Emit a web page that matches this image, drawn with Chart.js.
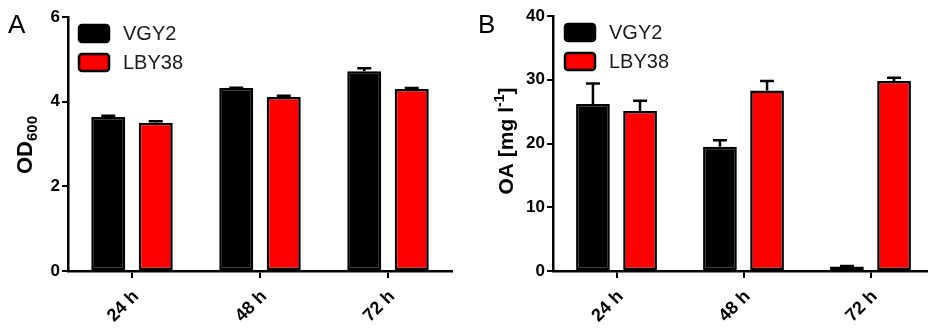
<!DOCTYPE html>
<html><head><meta charset="utf-8">
<script src="https://cdn.jsdelivr.net/npm/chart.js@4.4.1/dist/chart.umd.min.js"></script>
<style>
html,body{margin:0;padding:0;background:#fff;overflow:hidden;width:928px;height:329px;}
#wrap{position:relative;width:928px;height:329px;overflow:hidden;background:#fff;}
canvas{position:absolute;top:0;}
#cA{left:0}
#cB{left:464px}
</style></head><body>
<div id="wrap"><canvas id="cA" width="464" height="329"></canvas><canvas id="cB" width="480" height="329"></canvas></div>
<script>
const categories = ['24 h', '48 h', '72 h'];
const seriesNames = ['VGY2', 'LBY38'];
const seriesColors = ['#000000', '#ff0000'];

const odVGY2 = [3.64, 4.32, 4.72];
const odVGY2Err = [0.03, 0.01, 0.07];
const odLBY38 = [3.50, 4.11, 4.30];
const odLBY38Err = [0.04, 0.03, 0.02];

const oaVGY2 = [26.2, 19.5, 0.7];
const oaVGY2Err = [3.2, 1.0, 0.1];
const oaLBY38 = [25.1, 28.3, 29.8];
const oaLBY38Err = [1.6, 1.5, 0.5];

const odTicks = [0, 2, 4, 6];
const oaTicks = [0, 10, 20, 30, 40];

const FONT = "'Liberation Sans', Arial, sans-serif";

const errorBarPlugin = {
  id: 'errorBars',
  afterDatasetsDraw(chart, args, opts) {
    const ctx = chart.ctx;
    const ys = chart.scales.y;
    ctx.save();
    ctx.strokeStyle = '#000';
    ctx.lineWidth = 2.5;
    chart.data.datasets.forEach((ds, i) => {
      const meta = chart.getDatasetMeta(i);
      meta.data.forEach((el, j) => {
        const v = ds.data[j], e = ds.errors[j];
        const yTop = ys.getPixelForValue(v + e);
        ctx.beginPath();
        ctx.moveTo(el.x, el.y);
        ctx.lineTo(el.x, yTop);
        ctx.moveTo(el.x - 7, yTop);
        ctx.lineTo(el.x + 7, yTop);
        ctx.stroke();
      });
    });
    ctx.restore();
  }
};

const decorPlugin = {
  id: 'decor',
  afterDraw(chart, args, o) {
    const ctx = chart.ctx;
    const ca = chart.chartArea;
    ctx.save();
    // panel letter
    ctx.fillStyle = '#000';
    ctx.font = '26px ' + FONT;
    ctx.textBaseline = 'alphabetic';
    ctx.textAlign = 'left';
    ctx.fillText(o.letter, o.letterX, 33);
    // legend
    chart.data.datasets.forEach((ds, i) => {
      const bx = ca.left + o.legendDx, by = o.legendY[i];
      ctx.beginPath();
      ctx.roundRect(bx, by, 30, 17, 3);
      ctx.fillStyle = ds.backgroundColor;
      ctx.fill();
      ctx.lineWidth = 2.5;
      ctx.strokeStyle = '#000';
      ctx.stroke();
      ctx.fillStyle = '#1a1a1a';
      ctx.font = '20px ' + FONT;
      ctx.textBaseline = 'middle';
      ctx.fillText(ds.label, bx + 44, by + 9);
    });
    // y title
    ctx.translate(o.titleX, o.titleY);
    ctx.rotate(-Math.PI / 2);
    ctx.textBaseline = 'alphabetic';
    ctx.fillStyle = '#000';
    const parts = o.title;
    let total = 0;
    parts.forEach(p => { ctx.font = 'bold ' + p.size + 'px ' + FONT; p.w = ctx.measureText(p.t).width; total += p.w; });
    let x = -total / 2;
    parts.forEach(p => {
      ctx.font = 'bold ' + p.size + 'px ' + FONT;
      ctx.fillText(p.t, x, 8 + p.dy);
      x += p.w;
    });
    ctx.restore();
  }
};

function makeChart(id, vals1, err1, vals2, err2, tickVals, cfg) {
  const yMax = tickVals[tickVals.length - 1];
  const step = tickVals[1] - tickVals[0];
  return new Chart(document.getElementById(id), {
    type: 'bar',
    data: {
      labels: categories,
      datasets: [
        { label: seriesNames[0], data: vals1, errors: err1, backgroundColor: seriesColors[0], borderColor: '#000', borderWidth: 2.5, borderSkipped: false },
        { label: seriesNames[1], data: vals2, errors: err2, backgroundColor: seriesColors[1], borderColor: '#000', borderWidth: 2.5, borderSkipped: false }
      ]
    },
    options: {
      responsive: false,
      animation: false,
      events: [],
      categoryPercentage: 0.742,
      barPercentage: 0.716,
      layout: { padding: { top: cfg.padTop, right: cfg.padRight, left: 0, bottom: 0 } },
      plugins: {
        legend: { display: false },
        tooltip: { enabled: false },
        decor: cfg.decor
      },
      scales: {
        x: {
          grid: { offset: false, drawOnChartArea: false, drawTicks: true, tickLength: 7, color: '#000', lineWidth: 2 },
          border: { display: true, color: '#000', width: 2.5 },
          ticks: { color: '#000', font: { family: FONT, size: 18, weight: 'bold' }, minRotation: 45, maxRotation: 45, padding: 8, labelOffset: 4 },
          afterFit(s) { s.height = cfg.xHeight; }
        },
        y: {
          min: 0, max: yMax,
          grid: { drawOnChartArea: false, drawTicks: true, tickLength: 6, color: '#000', lineWidth: 2 },
          border: { display: true, color: '#000', width: 2.5 },
          ticks: { stepSize: step, color: '#000', font: { family: FONT, size: 17, weight: 'bold' }, padding: 2 },
          afterFit(s) { s.width = cfg.yWidth; }
        }
      }
    },
    plugins: [errorBarPlugin, decorPlugin]
  });
}

makeChart('cA', odVGY2, odVGY2Err, odLBY38, odLBY38Err, odTicks, {
  padTop: 17, padRight: 12, xHeight: 58, yWidth: 68,
  decor: { letter: 'A', letterX: 8, legendDx: 11, legendY: [25, 54], titleX: 24, titleY: 145,
    title: [{ t: 'OD', size: 22, dy: 0 }, { t: '600', size: 15, dy: 5 }] }
});
makeChart('cB', oaVGY2, oaVGY2Err, oaLBY38, oaLBY38Err, oaTicks, {
  padTop: 16, padRight: 10, xHeight: 58, yWidth: 89,
  decor: { letter: 'B', letterX: 14, legendDx: 12, legendY: [24, 53], titleX: 41, titleY: 141,
    title: [{ t: 'OA [mg l', size: 21, dy: 0 }, { t: '-1', size: 14, dy: -9 }, { t: ']', size: 21, dy: 0 }] }
});
</script>
</body></html>
